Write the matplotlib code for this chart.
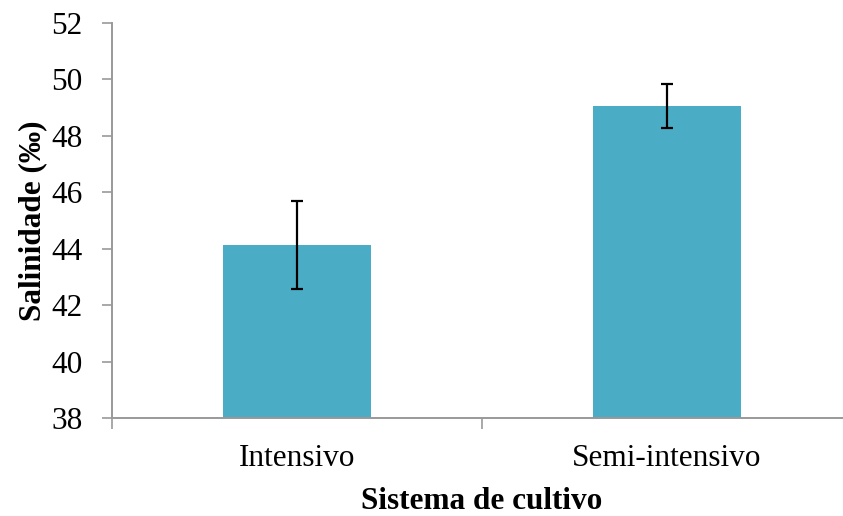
import matplotlib.pyplot as plt

categorias = ['Intensivo', 'Semi-intensivo']
salinidade = [44.13, 49.06]
erro = [1.56, 0.77]

plt.rcParams['font.family'] = ['Liberation Serif', 'DejaVu Serif']

fig = plt.figure(figsize=(8.43, 5.16), dpi=100)
ax = fig.add_axes([112 / 843, 98 / 516, 740 / 843, 395 / 516])

x = range(len(categorias))
ax.bar(x, salinidade, width=0.4, color='#4BACC6', zorder=2)
ax.errorbar(x, salinidade, yerr=erro, fmt='none', ecolor='black',
            elinewidth=1.6, capsize=4.5, capthick=1.6, zorder=3)

ax.set_ylim(38, 52)
ax.set_yticks(range(38, 53, 2))
ax.set_xlim(-0.5, 1.5)
ax.set_xticks(x)
ax.set_xticklabels(categorias)
# separator ticks between categories, like Excel
ax.set_xticks([-0.5, 0.5, 1.5], minor=True)
ax.tick_params(axis='x', which='major', length=0, pad=19, labelsize=22.5)
ax.tick_params(axis='x', which='minor', length=8, width=1.2, color='#999999')
ax.tick_params(axis='y', length=7, width=1.2, color='#999999', pad=14, labelsize=22.5)

for s in ['top', 'right']:
    ax.spines[s].set_visible(False)
for s in ['left', 'bottom']:
    ax.spines[s].set_color('#999999')
    ax.spines[s].set_linewidth(1.4)

ax.set_xlabel('Sistema de cultivo', fontsize=22.5, fontweight='bold', labelpad=10)
ax.set_ylabel('Salinidade (‰)', fontsize=22.5, fontweight='bold', labelpad=3)

fig.savefig('out.png', dpi=100)
